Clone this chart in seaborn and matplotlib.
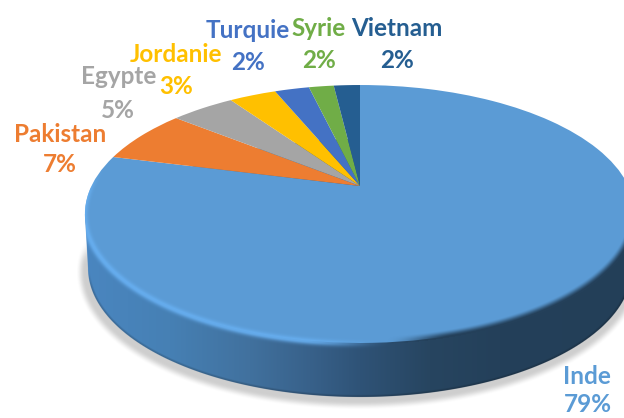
import numpy as np
import matplotlib
matplotlib.use("Agg")
import matplotlib.pyplot as plt
import matplotlib.transforms as mtrans
from matplotlib.path import Path
from matplotlib.colors import to_rgb
import seaborn as sns

# ---- data ----
categories = ["Inde", "Pakistan", "Egypte", "Jordanie", "Turquie", "Syrie", "Vietnam"]
values = [79.0, 6.8, 4.6, 3.4, 2.5, 1.8, 1.9]
colors = ["#5B9BD5", "#ED7D31", "#A5A5A5", "#FFC000", "#4472C4", "#70AD47", "#255E91"]
label_name_xy = [(587, 376), (60, 134), (119, 77), (176, 54), (248, 30), (319, 28), (397, 28)]
label_pct_xy = [(588, 405), (60, 164), (118, 110), (176, 86), (248, 63), (319, 60), (397, 60)]

W, H = 624, 418
sns.set_theme(style="white")
plt.rcParams["font.family"] = ["Lato", "DejaVu Sans"]


class Perspective(mtrans.Transform):
    """Tilted-disc projection of the unit pie into pixel space."""
    input_dims = output_dims = 2
    is_separable = False
    has_inverse = False

    def transform_non_affine(self, v):
        v = np.asarray(v, float)
        d = 1 + 0.217 * v[:, 1]
        return np.column_stack([360 + 268.5 * v[:, 0] / d, 186 - 122.9 * v[:, 1] / d])

    def transform_path_non_affine(self, path):
        return Path(self.transform_non_affine(path.vertices), path.codes)


fig = plt.figure(figsize=(W / 100, H / 100), dpi=100, facecolor="white")
ax = fig.add_axes([0, 0, 1, 1])

wedges, _ = ax.pie(values, colors=sns.color_palette(colors), startangle=90, counterclock=False,
                   radius=1.0, center=(0, 0), wedgeprops=dict(linewidth=0))
proj = Perspective() + ax.transData
for w in wedges:
    w.set_transform(proj)
    w.set_zorder(2)
ax.set_aspect("auto")
ax.set_xlim(0, W)
ax.set_ylim(H, 0)
ax.axis("off")

# ---- raster decoration: shadow, side wall, rim ----
X, Y = np.meshgrid(np.arange(W) + 0.5, np.arange(H) + 0.5)


def edge_dist(cx, cy, rx, ry):
    dx, dy = X - cx, Y - cy
    r = np.sqrt((dx / rx) ** 2 + (dy / ry) ** 2) + 1e-6
    g = np.sqrt((dx / rx ** 2) ** 2 + (dy / ry ** 2) ** 2) / r + 1e-9
    return (r - 1) / g


def sstep(a, b, v):
    t = np.clip((v - a) / (b - a), 0, 1)
    return t * t * (3 - 2 * t)


EXT = (0, W, H, 0)
# shadow
s_sh = edge_dist(359, 272, 276, 131)
sh = np.zeros((H, W, 4))
sh[..., :3] = 0.55
sh[..., 3] = 0.42 * (1 - sstep(-2, 7, s_sh)) * sstep(235, 265, Y)
ax.imshow(sh, extent=EXT, zorder=0, aspect="auto", interpolation="bilinear")

# side wall
stops_x = [85, 170, 250, 310, 360, 430, 500, 624]
stops_c = ["#4A86C0", "#4680B4", "#41719E", "#38618A", "#2F5377", "#274560", "#24405A", "#233F58"]
rgb = np.array([to_rgb(c) for c in stops_c])
side = np.zeros((H, W, 4))
for i in range(3):
    side[..., i] = np.interp(X, stops_x, rgb[:, i])
s_bot = edge_dist(360, 268, 272, 129)
inside = 1 - sstep(-0.7, 0.7, s_bot)
band_edge = 275 - 3 * (Y - 214) / 54
band = (1 - sstep(-0.7, 0.7, np.abs(X - 360) - band_edge)) * ((Y > 214) & (Y < 268))
side[..., 3] = np.maximum(inside, band)
# darker lip at the bottom edge
lip = sstep(-3, -0.5, s_bot) * sstep(268, 290, Y)
side[..., :3] *= (1 - 0.18 * lip)[..., None]
ax.imshow(side, extent=EXT, zorder=1, aspect="auto", interpolation="bilinear")

# rim: light bevel on the left, soft dark blend on the right
s_top = edge_dist(360, 214, 275, 129)
solid = np.maximum(side[..., 3], 1 - sstep(-0.7, 0.7, s_top))
left_w = (1 - sstep(300, 395, X)) * sstep(165, 200, Y)
right_w = sstep(385, 450, X) * sstep(190, 235, Y)
light = np.zeros((H, W, 4))
light[..., :3] = to_rgb("#68B0F2")
light[..., 3] = np.exp(-((s_top - 0.5) / 3.2) ** 2) * left_w * 0.9 * solid
dark = np.zeros((H, W, 4))
dark[..., :3] = to_rgb("#24405A")
dark[..., 3] = sstep(-7, 0.5, s_top) * right_w * (s_top < 1.5)
ax.imshow(dark, extent=EXT, zorder=3, aspect="auto", interpolation="bilinear")
ax.imshow(light, extent=EXT, zorder=4, aspect="auto", interpolation="bilinear")
ax.set_xlim(0, W)
ax.set_ylim(H, 0)

# ---- labels ----
for name, val, col, nxy, pxy in zip(categories, values, colors, label_name_xy, label_pct_xy):
    for txt, xy in ((name, nxy), (f"{val:.0f}%", pxy)):
        ax.text(xy[0], xy[1], txt, color=col, fontsize=17.5, fontweight="bold",
                ha="center", va="center", zorder=5)

fig.savefig("out.png", dpi=100, facecolor="white")
